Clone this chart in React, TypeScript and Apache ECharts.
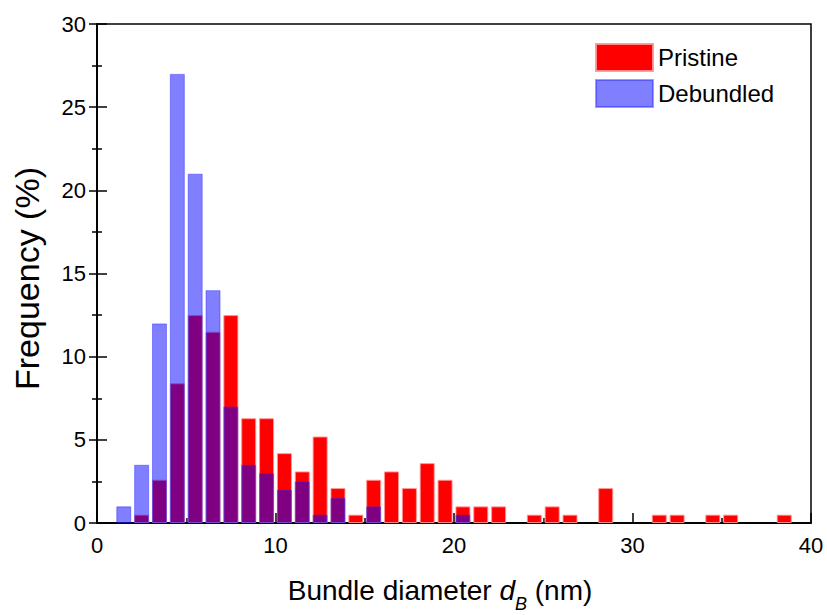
import React, { useEffect, useRef } from "react";
import * as echarts from "echarts";

// bin centers (nm)
const binCenters = [
  0.5, 1.5, 2.5, 3.5, 4.5, 5.5, 6.5, 7.5, 8.5, 9.5, 10.5, 11.5, 12.5, 13.5, 14.5, 15.5, 16.5, 17.5, 18.5, 19.5,
  20.5, 21.5, 22.5, 23.5, 24.5, 25.5, 26.5, 27.5, 28.5, 29.5, 30.5, 31.5, 32.5, 33.5, 34.5, 35.5, 36.5, 37.5, 38.5, 39.5,
];
// Frequency (%) per bin
const pristine = [
  0, 0, 0.5, 2.6, 8.4, 12.5, 11.5, 12.5, 6.3, 6.3, 4.2, 3.1, 5.2, 2.1, 0.5, 2.6, 3.1, 2.1, 3.6, 2.6,
  1.0, 1.0, 1.0, 0, 0.5, 1.0, 0.5, 0, 2.1, 0, 0, 0.5, 0.5, 0, 0.5, 0.5, 0, 0, 0.5, 0,
];
const debundled = [
  0, 1.0, 3.5, 12, 27, 21, 14, 7, 3.5, 3.0, 2.0, 2.5, 0.5, 1.5, 0, 1.0, 0, 0, 0, 0,
  0.5, 0, 0, 0, 0, 0, 0, 0, 0, 0, 0, 0, 0, 0, 0, 0, 0, 0, 0, 0,
];
const seriesNames = ["Pristine", "Debundled"];

const toData = (vals: number[]) =>
  binCenters.map((c, i) => [c, vals[i]]).filter((d) => d[1] > 0);

export default function App() {
  const ref = useRef<HTMLDivElement>(null);
  useEffect(() => {
    if (!ref.current) return;
    const chart = echarts.init(ref.current, undefined, { renderer: "svg" });
    const font = "Liberation Sans, Arial, Helvetica, sans-serif";
    const axisLine = { show: true, lineStyle: { color: "#000", width: 1.5 } };
    chart.setOption({
      animation: false,
      backgroundColor: "#fff",
      textStyle: { fontFamily: font },
      grid: {
        left: 97,
        right: 16,
        top: 24,
        bottom: 92,
        containLabel: false,
        outerBoundsMode: "none",
        show: true,
        borderColor: "#000",
        borderWidth: 1.5,
        backgroundColor: "transparent",
      },
      legend: {
        orient: "vertical",
        left: 595,
        top: 43,
        padding: 0,
        itemWidth: 57,
        itemHeight: 27,
        itemGap: 7,
        icon: "rect",
        data: seriesNames,
        textStyle: { fontSize: 24, fontFamily: font, color: "#000", padding: [0, 0, 0, 0] },
      },
      xAxis: [
        {
          type: "value",
          min: 0,
          max: 40,
          interval: 10,
          position: "bottom",
          axisLine,
          axisTick: { show: true, inside: true, length: 10, lineStyle: { color: "#000", width: 1.5 } },
          minorTick: { show: true, splitNumber: 2, length: 5, lineStyle: { color: "#000", width: 1.5 } },
          splitLine: { show: false },
          axisLabel: { fontSize: 22, color: "#000", margin: 11, fontFamily: font },
          name: "{a|Bundle diameter }{i|d}{s|B}{a| (nm)}",
          nameLocation: "middle",
          nameGap: 44,
          nameTextStyle: {
            padding: [0, 28, 0, 0],
            rich: {
              a: { fontSize: 28, fontFamily: font, color: "#000" },
              i: { fontSize: 28, fontFamily: font, color: "#000", fontStyle: "italic" },
              s: { fontSize: 18, fontFamily: font, color: "#000", fontStyle: "italic", padding: [28, 0, 0, 0] },
            },
          },
        },
        {
          type: "value",
          min: 0,
          max: 40,
          interval: 10,
          position: "top",
          axisLine,
          axisTick: { show: false },
          axisLabel: { show: false },
          splitLine: { show: false },
        },
      ],
      yAxis: [
        {
          type: "value",
          min: 0,
          max: 30,
          interval: 5,
          position: "left",
          axisLine,
          axisTick: { show: true, inside: true, length: 10, lineStyle: { color: "#000", width: 1.5 } },
          minorTick: { show: true, splitNumber: 2, length: 5, lineStyle: { color: "#000", width: 1.5 } },
          splitLine: { show: false },
          axisLabel: { fontSize: 22, color: "#000", margin: 11, fontFamily: font },
          name: "Frequency (%)",
          nameLocation: "middle",
          nameGap: 53,
          nameTextStyle: { fontSize: 34, color: "#000", fontFamily: font, padding: [0, 10, 0, 0] },
        },
        {
          type: "value",
          min: 0,
          max: 30,
          interval: 5,
          position: "right",
          axisLine,
          axisTick: { show: true, inside: true, length: 8, lineStyle: { color: "#000", width: 1.5 } },
          minorTick: { show: true, splitNumber: 2, length: 5, lineStyle: { color: "#000", width: 1.5 } },
          axisLabel: { show: false },
          splitLine: { show: false },
        },
      ],
      series: [
        {
          name: seriesNames[0],
          type: "bar",
          xAxisIndex: 0,
          yAxisIndex: 0,
          barWidth: 15,
          barGap: "-100%",
          itemStyle: { color: "#ff0000", borderColor: "rgba(255,150,150,0.9)", borderWidth: 1 },
          data: toData(pristine),
        },
        {
          name: seriesNames[1],
          type: "bar",
          xAxisIndex: 0,
          yAxisIndex: 0,
          barWidth: 15,
          barGap: "-100%",
          itemStyle: { color: "rgba(0,0,255,0.5)", borderColor: "rgba(40,40,255,0.45)", borderWidth: 1 },
          data: toData(debundled),
        },
      ],
    });
    return () => chart.dispose();
  }, []);
  return (
    <div
      ref={ref}
      style={{ position: "fixed", left: 0, top: 0, width: 827, height: 615, background: "#fff" }}
    />
  );
}
